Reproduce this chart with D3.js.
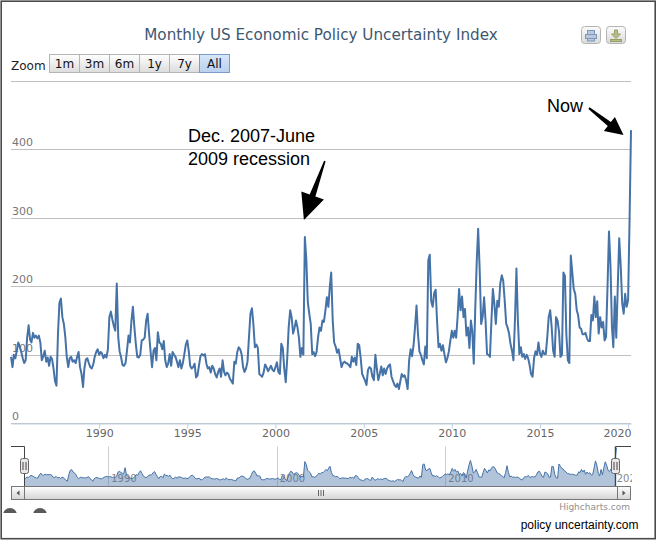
<!DOCTYPE html>
<html>
<head>
<meta charset="utf-8">
<script src="https://cdn.jsdelivr.net/npm/d3@7"></script>
<style>
  body { margin: 0; background: #fff; }
  svg { display: block; }
</style>
</head>
<body>
<svg id="chart" width="659" height="541"></svg>
<script>
// Monthly index, one row per year starting January
var startYear = 1985;
var epu1985 = [
  97, 82, 100, 95, 106, 118, 112, 104, 95, 88, 92, 125,
  143, 122, 118, 132, 125, 128, 124, 128, 118, 92, 98, 106,
  90, 96, 84, 97, 94, 80, 62, 55, 130, 176, 182, 155,
  145, 125, 97, 82, 95, 97, 90, 92, 88, 97, 104, 82,
  72, 53, 80, 93, 95, 88, 82, 80, 86, 97, 104, 108,
  100, 104, 102, 95, 100, 96, 108, 155, 163, 152, 142, 135,
  204, 125, 105, 96, 85, 84, 88, 106, 128, 118, 150, 170,
  140, 115, 97, 96, 100, 121, 122, 125, 150, 160, 130, 105,
  82, 106, 110, 92, 133, 118, 116, 108, 120, 92, 82, 87,
  101, 84, 104, 100, 97, 90, 82, 92, 80, 88, 101, 115
];
var epu1995 = [
  121, 105, 84, 80, 82, 87, 67, 70, 85, 98, 101, 99,
  101, 87, 80, 82, 74, 84, 80, 72, 67, 75, 80, 68,
  92, 75, 70, 74, 72, 65, 62, 58, 90, 87, 104, 111,
  108, 100, 82, 75, 80, 90, 125, 160, 168, 145, 111, 115,
  110, 72, 70, 68, 74, 86, 82, 76, 80, 84, 78, 76,
  82, 89, 75, 72, 116, 110, 80, 60, 95, 140, 165, 155,
  131, 140, 150, 140, 125, 97, 110, 100, 272, 240, 177, 160,
  145, 101, 104, 98, 104, 125, 140, 135, 150, 148, 165, 184,
  170, 200, 220, 150, 118, 112, 103, 108, 95, 82, 88, 90,
  88, 87, 85, 82, 97, 90, 96, 85, 116, 114, 95, 72
];
var epu2005 = [
  67, 62, 56, 78, 82, 80, 68, 63, 100, 80, 63, 72,
  83, 70, 80, 72, 80, 84, 86, 68, 62, 56, 53, 58,
  50, 62, 72, 68, 70, 62, 50, 92, 108, 98, 114, 140,
  172, 130, 105, 100, 92, 86, 112, 95, 238, 246, 178, 170,
  190, 195, 150, 111, 116, 106, 114, 101, 89, 95, 105, 120,
  135, 125, 135, 125, 155, 196, 165, 185, 155, 167, 128, 140,
  110, 150, 135, 87, 165, 235, 284, 225, 145, 155, 184, 150,
  101, 100, 97, 150, 196, 174, 145, 179, 170, 204, 216, 208,
  179, 145, 140, 131, 116, 106, 92, 150, 226, 150, 101, 111,
  97, 101, 94, 100, 95, 85, 72, 68, 95, 105, 100, 118
];
var epu2015 = [
  102, 97, 106, 101, 101, 125, 155, 165, 140, 106, 97, 155,
  150, 133, 97, 100, 220, 215, 130, 92, 88, 245, 220, 196,
  189, 165, 158, 140, 138, 130, 130, 132, 124, 120, 120, 158,
  150, 185, 155, 178, 131, 155, 140, 148, 121, 126, 200, 280,
  230, 140, 111, 185, 125, 200, 270, 230, 175, 160, 189, 170,
  180, 300, 428
];

var yTicks = [0, 100, 200, 300, 400, 500];
var xTickYears = [1990, 1995, 2000, 2005, 2010, 2015, 2020];
var navTickYears = [1990, 2000, 2010, 2020];
var rangeButtons = ["1m", "3m", "6m", "1y", "7y", "All"];
var selectedButton = "All";

var titleText = "Monthly US Economic Policy Uncertainty Index";
var recessionNote = ["Dec. 2007-June", "2009 recession"];
var nowNote = "Now";

var values = epu1985.concat(epu1995, epu2005, epu2015);
var data = values.map(function(v, i) {
  return { date: new Date(startYear, i, 1), value: v };
});

var svg = d3.select("#chart");
var lineColor = "#4572A7";
var uiFont = "'DejaVu Sans', 'Lucida Grande', sans-serif";
var noteFont = "'Liberation Sans', Arial, Helvetica, sans-serif";

var plot = { left: 11, right: 631, top: 80.8, bottom: 423.3 };
var nav = { top: 446.5, bottom: 486 };

var x = d3.scaleTime()
  .domain(d3.extent(data, d => d.date))
  .range([plot.left, plot.right]);
var y = d3.scaleLinear()
  .domain([0, 500])
  .range([plot.bottom, plot.top]);

var xNav = d3.scaleTime()
  .domain(x.domain())
  .range([24, 616.5]);
var yNav = d3.scaleLinear()
  .domain([0, 440])
  .range([nav.bottom, nav.top]);

var defs = svg.append("defs");
function vGrad(id, c0, c1) {
  var g = defs.append("linearGradient").attr("id", id)
    .attr("x1", 0).attr("y1", 0).attr("x2", 0).attr("y2", 1);
  g.append("stop").attr("offset", "0%").attr("stop-color", c0);
  g.append("stop").attr("offset", "100%").attr("stop-color", c1);
}
vGrad("btnGrad", "#ffffff", "#dcdcdc");
vGrad("btnSel", "#d8e6f8", "#b9d0ee");
vGrad("expGrad", "#fbfbfb", "#dadada");
vGrad("barGrad", "#ffffff", "#d4d4d4");
defs.append("clipPath").attr("id", "navClip")
  .append("rect").attr("x", 11).attr("y", 440).attr("width", 621).attr("height", 60);
defs.append("clipPath").attr("id", "footClip")
  .append("rect").attr("x", 0).attr("y", 500).attr("width", 100).attr("height", 13);

// frame
svg.append("rect")
  .attr("x", 1.2).attr("y", 1.2).attr("width", 654).attr("height", 537.5)
  .attr("fill", "#fff").attr("stroke", "#4a4a4a").attr("stroke-width", 1.6);

// title
svg.append("text")
  .attr("x", 321).attr("y", 40)
  .attr("text-anchor", "middle")
  .attr("font-family", uiFont).attr("font-size", 15.2)
  .attr("fill", "#3E576F")
  .text(titleText);

// export buttons
var exportBtns = svg.append("g");
[581, 606].forEach(function(bx, i) {
  exportBtns.append("rect")
    .attr("x", bx + 0.5).attr("y", 26.5).attr("width", 19).attr("height", 17).attr("rx", 3)
    .attr("fill", "url(#expGrad)").attr("stroke", "#b4b4b4");
  if (i === 0) {
    exportBtns.append("rect").attr("x", bx + 6.5).attr("y", 30.5).attr("width", 7).attr("height", 4)
      .attr("fill", "#b9c8dc").attr("stroke", "#7f97b8");
    exportBtns.append("rect").attr("x", bx + 4.5).attr("y", 34.5).attr("width", 11).attr("height", 4)
      .attr("fill", "#b9c8dc").attr("stroke", "#7f97b8");
    exportBtns.append("rect").attr("x", bx + 6.5).attr("y", 38.5).attr("width", 7).attr("height", 2.5)
      .attr("fill", "#b9c8dc").attr("stroke", "#7f97b8");
  } else {
    exportBtns.append("path")
      .attr("d", "M" + (bx + 8.5) + ",30 h3 v4 h3 l-4.5,4.5 l-4.5,-4.5 h3 z")
      .attr("fill", "#b9bd8a").attr("stroke", "#9a9f66");
    exportBtns.append("rect").attr("x", bx + 4.5).attr("y", 39.5).attr("width", 11).attr("height", 2)
      .attr("fill", "#b9bd8a").attr("stroke", "#9a9f66");
  }
});

// range selector
var rs = svg.append("g").attr("font-family", uiFont).attr("font-size", 12);
rs.append("text").attr("x", 11).attr("y", 70).attr("fill", "#222").text("Zoom");
rangeButtons.forEach(function(label, i) {
  var bx = 49.5 + i * 30;
  var sel = label === selectedButton;
  rs.append("rect")
    .attr("x", bx).attr("y", 54.5).attr("width", 30).attr("height", 18)
    .attr("fill", sel ? "url(#btnSel)" : "url(#btnGrad)")
    .attr("stroke", sel ? "#7b9ccb" : "#b5b5b5");
  rs.append("text")
    .attr("x", bx + 15).attr("y", 68)
    .attr("text-anchor", "middle").attr("fill", "#111")
    .text(label);
});

// gridlines and y labels
var grid = svg.append("g");
grid.selectAll("line").data(yTicks).join("line")
  .attr("x1", plot.left).attr("x2", plot.right)
  .attr("y1", d => Math.round(y(d)) + 0.5).attr("y2", d => Math.round(y(d)) + 0.5)
  .attr("stroke", "#c0c0c0");
grid.selectAll("text").data(yTicks.slice(0, -1)).join("text")
  .attr("x", 12).attr("y", d => y(d) - 3)
  .attr("font-family", uiFont).attr("font-size", 11)
  .attr("fill", "#777")
  .text(d => d);

// x axis
var xAxis = d3.axisBottom(x)
  .tickValues(xTickYears.map(yr => new Date(yr, 0, 1)))
  .tickFormat(d3.timeFormat("%Y"))
  .tickSize(5).tickSizeOuter(0).tickPadding(1);
var ax = svg.append("g")
  .attr("transform", "translate(0," + (Math.round(plot.bottom) + 0.5) + ")")
  .call(xAxis);
ax.select(".domain").attr("stroke", "#c0d0e0");
ax.selectAll(".tick line").attr("stroke", "#c0d0e0");
ax.selectAll(".tick text")
  .attr("font-family", uiFont).attr("font-size", 11).attr("fill", "#666")
  .each(function() {
    var t = d3.select(this);
    var w = this.getComputedTextLength();
    var px = x(t.datum());
    if (px + w / 2 > plot.right) t.attr("dx", plot.right - (px + w / 2));
  });

// main series
var line = d3.line().x(d => x(d.date)).y(d => y(d.value));
svg.append("path")
  .datum(data)
  .attr("d", line)
  .attr("fill", "none")
  .attr("stroke", lineColor)
  .attr("stroke-width", 2)
  .attr("stroke-linejoin", "round");

// annotations
function arrowPath(sx, sy, tx, ty, headLen, headHalf, w0, w1) {
  var dx = tx - sx, dy = ty - sy, len = Math.sqrt(dx * dx + dy * dy);
  var ux = dx / len, uy = dy / len, nx = -uy, ny = ux;
  var bx = tx - ux * headLen, by = ty - uy * headLen;
  var pts = [
    [sx + nx * w0 / 2, sy + ny * w0 / 2],
    [bx + nx * w1 / 2, by + ny * w1 / 2],
    [bx + nx * headHalf, by + ny * headHalf],
    [tx, ty],
    [bx - nx * headHalf, by - ny * headHalf],
    [bx - nx * w1 / 2, by - ny * w1 / 2],
    [sx - nx * w0 / 2, sy - ny * w0 / 2]
  ];
  return "M" + pts.map(p => p[0].toFixed(1) + "," + p[1].toFixed(1)).join("L") + "Z";
}

var peak = data.reduce((a, b) => (b.date.getFullYear() < 2005 && b.value > a.value) ? b : a, data[0]);
var last = data[data.length - 1];
var px0 = x(peak.date), py0 = y(peak.value);
var px1 = x(last.date), py1 = y(last.value);

var notes = svg.append("g").attr("font-family", noteFont).attr("font-size", 18).attr("fill", "#000");
notes.append("text").attr("x", 188).attr("y", 142).text(recessionNote[0]);
notes.append("text").attr("x", 188).attr("y", 165).text(recessionNote[1]);
notes.append("text").attr("x", 547).attr("y", 112).text(nowNote);

svg.append("path")
  .attr("d", arrowPath(px0 + 20, py0 - 76, px0 - 1, py0 - 17, 26, 12, 1.5, 6))
  .attr("fill", "#000");
svg.append("path")
  .attr("d", arrowPath(px1 - 42, py1 - 22, px1 - 7.5, py1 + 5, 18, 9, 2, 5))
  .attr("fill", "#000");

// navigator
var navG = svg.append("g").attr("clip-path", "url(#navClip)");
navG.selectAll("line").data(navTickYears).join("line")
  .attr("x1", d => Math.round(xNav(new Date(d, 0, 1))) + 0.5)
  .attr("x2", d => Math.round(xNav(new Date(d, 0, 1))) + 0.5)
  .attr("y1", nav.top).attr("y2", nav.bottom)
  .attr("stroke", "#cfcfcf");
navG.selectAll("text").data(navTickYears).join("text")
  .attr("x", d => xNav(new Date(d, 0, 1)) + 3)
  .attr("y", 482)
  .attr("font-family", uiFont).attr("font-size", 10)
  .attr("fill", "#888")
  .text(d => d);

var navArea = d3.area()
  .x(d => xNav(d.date)).y0(nav.bottom).y1(d => yNav(d.value));
navG.append("path").datum(data)
  .attr("d", navArea)
  .attr("fill", lineColor).attr("fill-opacity", 0.42);
navG.append("path").datum(data)
  .attr("d", d3.line().x(d => xNav(d.date)).y(d => yNav(d.value)))
  .attr("fill", "none").attr("stroke", lineColor).attr("stroke-width", 1);

var navL = Math.round(xNav.range()[0]) + 0.5;
var navR = Math.round(xNav.range()[1]) - 1.5;
svg.append("path")
  .attr("d", "M11," + nav.top + "H" + navL + "V" + nav.bottom + "M" + navR + "," + nav.bottom + "V" + nav.top + "H631")
  .attr("fill", "none").attr("stroke", "#444");

// scrollbar
var sb = svg.append("g");
sb.append("rect").attr("x", 11.5).attr("y", 486.5).attr("width", 619).attr("height", 13)
  .attr("fill", "#eee").attr("stroke", "#888");
sb.append("rect").attr("x", 11.5).attr("y", 486.5).attr("width", 13).attr("height", 13)
  .attr("fill", "url(#barGrad)").attr("stroke", "#777");
sb.append("rect").attr("x", 617.5).attr("y", 486.5).attr("width", 13).attr("height", 13)
  .attr("fill", "url(#barGrad)").attr("stroke", "#777");
sb.append("path").attr("d", "M16.5,493 l3,-2.5 v5 z").attr("fill", "#555");
sb.append("path").attr("d", "M625.5,493 l-3,-2.5 v5 z").attr("fill", "#555");
sb.append("rect").attr("x", navL).attr("y", 486.5).attr("width", 617.5 - navL).attr("height", 13)
  .attr("fill", "url(#barGrad)").attr("stroke", "#777");
var gx = (navL + 617.5) / 2;
[-2.5, 0, 2.5].forEach(function(o) {
  sb.append("line").attr("x1", gx + o).attr("x2", gx + o).attr("y1", 490).attr("y2", 496)
    .attr("stroke", "#666");
});

// navigator handles
[navL, navR].forEach(function(hx) {
  svg.append("rect").attr("x", hx - 4).attr("y", 458.5).attr("width", 8).attr("height", 15).attr("rx", 2)
    .attr("fill", "#ebe7e8").attr("stroke", "#666");
  [-1.5, 1.5].forEach(function(o) {
    svg.append("line").attr("x1", hx + o).attr("x2", hx + o).attr("y1", 462).attr("y2", 470)
      .attr("stroke", "#444");
  });
});

// credits and source
svg.append("text")
  .attr("x", 630).attr("y", 510).attr("text-anchor", "end")
  .attr("font-family", uiFont).attr("font-size", 9).attr("fill", "#909090")
  .text("Highcharts.com");
svg.append("text")
  .attr("x", 638.5).attr("y", 529).attr("text-anchor", "end")
  .attr("font-family", noteFont).attr("font-size", 12).attr("fill", "#000")
  .text("policy uncertainty.com");

// stray round marks at the lower left
svg.append("g").attr("clip-path", "url(#footClip)")
  .selectAll("circle").data([10, 40]).join("circle")
  .attr("cx", d => d).attr("cy", 515).attr("r", 7)
  .attr("fill", "#5a5a5a");
</script>
</body>
</html>
